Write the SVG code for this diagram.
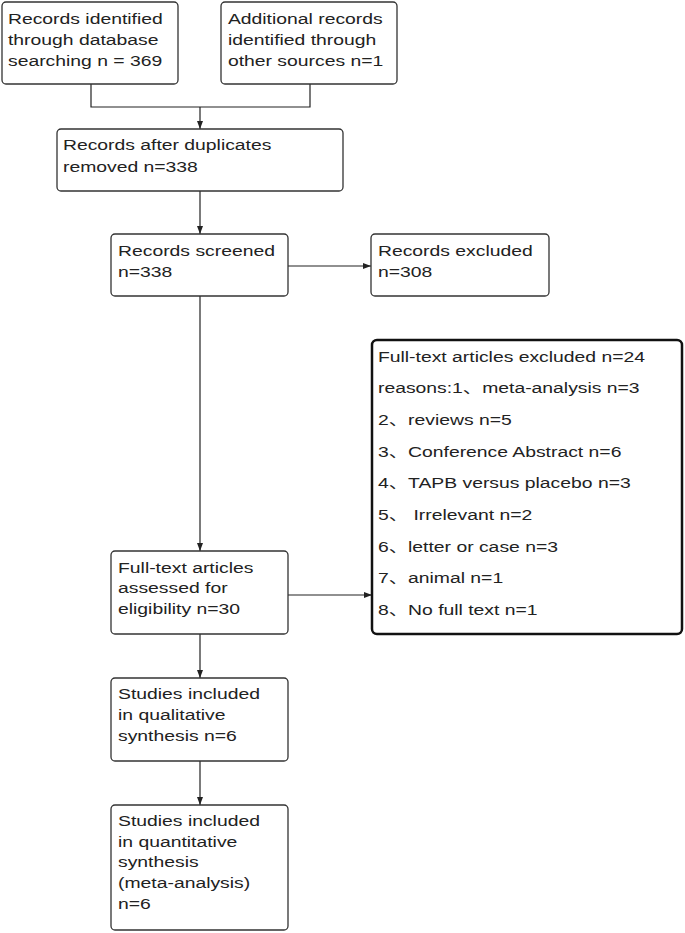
<svg xmlns="http://www.w3.org/2000/svg" width="685" height="933" viewBox="0 0 685 933">
<style>
.box{fill:#fff;stroke:#333;stroke-width:1.3}
.bold{fill:#fff;stroke:#111;stroke-width:2.5}
.t{font-family:"Liberation Sans","Noto Sans CJK SC",sans-serif;font-size:15px;fill:#222}
.c{fill:none;stroke:#222;stroke-width:1.2}
</style>
<defs>
<marker id="ah" viewBox="0 0 8 8" refX="8" refY="4" markerWidth="8" markerHeight="8" markerUnits="userSpaceOnUse" orient="auto">
<path d="M0,1 L8,4 L0,7 Z" fill="#222"/>
</marker>
</defs>
<rect width="685" height="933" fill="#fff"/>
<g id="connectors">
<path class="c" d="M91,84 V107 H310 V84"/>
<path class="c" d="M200,107 V129" marker-end="url(#ah)"/>
<path class="c" d="M200,191 V234" marker-end="url(#ah)"/>
<path class="c" d="M288,266 H371" marker-end="url(#ah)"/>
<path class="c" d="M200,296 V551" marker-end="url(#ah)"/>
<path class="c" d="M288,595 H372" marker-end="url(#ah)"/>
<path class="c" d="M200,634 V678" marker-end="url(#ah)"/>
<path class="c" d="M200,761 V805" marker-end="url(#ah)"/>
</g>
<g id="n1">
<rect class="box" x="2" y="2" width="176" height="82" rx="4"/>
<g transform="scale(1.29 1)" class="t"><text x="6.2" y="24">Records identified</text><text x="6.2" y="45">through database</text><text x="6.2" y="66">searching n = 369</text></g>
</g>
<g id="n2">
<rect class="box" x="221" y="2" width="176" height="82" rx="4"/>
<g transform="scale(1.29 1)" class="t"><text x="176.7" y="24">Additional records</text><text x="176.7" y="45">identified through</text><text x="176.7" y="66">other sources n=1</text></g>
</g>
<g id="n3">
<rect class="box" x="57" y="129" width="286" height="62" rx="4"/>
<g transform="scale(1.29 1)" class="t"><text x="48.8" y="150">Records after duplicates</text><text x="48.8" y="172">removed n=338</text></g>
</g>
<g id="n4">
<rect class="box" x="111" y="234" width="177" height="62" rx="4"/>
<g transform="scale(1.29 1)" class="t"><text x="91.5" y="256">Records screened</text><text x="91.5" y="277">n=338</text></g>
</g>
<g id="n5">
<rect class="box" x="371" y="234" width="178" height="62" rx="4"/>
<g transform="scale(1.29 1)" class="t"><text x="293" y="256">Records excluded</text><text x="293" y="277">n=308</text></g>
</g>
<g id="n6">
<rect class="bold" x="372" y="340" width="310" height="294" rx="5"/>
<g transform="scale(1.29 1)" class="t">
<text x="293" y="362">Full-text articles excluded n=24</text>
<text x="293" y="393">reasons:1、meta-analysis n=3</text>
<text x="293" y="425">2、reviews n=5</text>
<text x="293" y="457">3、Conference Abstract n=6</text>
<text x="293" y="488">4、TAPB versus placebo n=3</text>
<text x="293" y="520">5、 Irrelevant n=2</text>
<text x="293" y="552">6、letter or case n=3</text>
<text x="293" y="583">7、animal n=1</text>
<text x="293" y="615">8、No full text n=1</text>
</g>
</g>
<g id="n7">
<rect class="box" x="111" y="551" width="177" height="83" rx="4"/>
<g transform="scale(1.29 1)" class="t"><text x="91.5" y="573">Full-text articles</text><text x="91.5" y="593">assessed for</text><text x="91.5" y="614">eligibility n=30</text></g>
</g>
<g id="n8">
<rect class="box" x="111" y="678" width="177" height="83" rx="4"/>
<g transform="scale(1.29 1)" class="t"><text x="91.5" y="699">Studies included</text><text x="91.5" y="720">in qualitative</text><text x="91.5" y="741">synthesis n=6</text></g>
</g>
<g id="n9">
<rect class="box" x="111" y="805" width="177" height="125" rx="4"/>
<g transform="scale(1.29 1)" class="t"><text x="91.5" y="826">Studies included</text><text x="91.5" y="847">in quantitative</text><text x="91.5" y="867">synthesis</text><text x="91.5" y="888">(meta-analysis)</text><text x="91.5" y="909">n=6</text></g>
</g>
</svg>
